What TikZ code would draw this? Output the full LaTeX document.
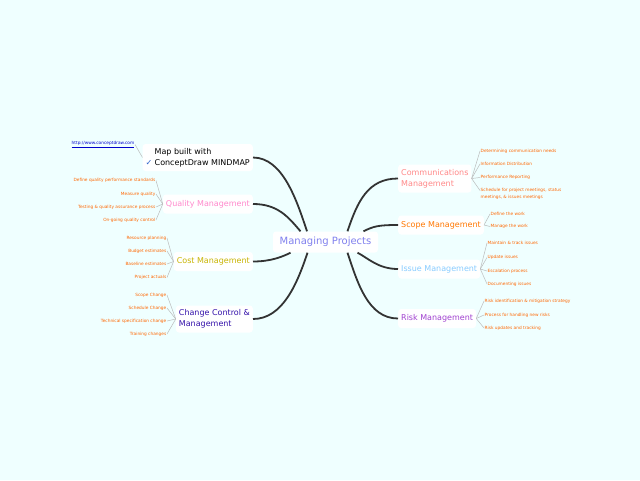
\documentclass[tikz,border=0pt]{standalone}
\usepackage{fontspec}
\setmainfont{DejaVu Sans}
\usetikzlibrary{calc}
\definecolor{BackClr}{HTML}{EFFFFF}
\definecolor{RootClr}{HTML}{8080EE}
\definecolor{QualClr}{HTML}{FF88CC}
\definecolor{CostClr}{HTML}{C8B400}
\definecolor{ChgClr}{HTML}{3311AA}
\definecolor{CommClr}{HTML}{FF8888}
\definecolor{ScopeClr}{HTML}{FF7700}
\definecolor{IssueClr}{HTML}{88CCFF}
\definecolor{RiskClr}{HTML}{A040D0}
\definecolor{LeafClr}{HTML}{FF6600}
\definecolor{LinkClr}{HTML}{0000CC}
\definecolor{TickClr}{HTML}{3366CC}
\definecolor{LimbClr}{HTML}{333333}
\definecolor{TwigClr}{HTML}{BBBBBB}

\begin{document}
\begin{tikzpicture}[x=1pt,y=-1pt,
  branch/.style={fill=white,rounded corners=3pt,inner xsep=3pt,inner ysep=0pt,minimum height=19pt,font=\fontsize{8}{11}\selectfont},
  leaf/.style={text=LeafClr,inner sep=0.5pt,font=\fontsize{4.3}{7}\selectfont},
  twig/.style={draw=TwigClr,line width=0.5pt},
  limb/.style={draw=LimbClr,line width=1.8pt}]

\useasboundingbox (0,0) rectangle (640,480);
\fill[BackClr] (0,0) rectangle (640,480);

\node[branch,minimum width=105pt,minimum height=21pt,inner sep=0pt,text=RootClr,font=\fontsize{10}{12}\selectfont] (R) at (325.5,242) {Managing Projects};

\node[branch,anchor=east,align=left,minimum height=27pt] (map) at (253,157.5)
  {\makebox[9pt][l]{}Map built with\\\makebox[9pt][l]{\color{TickClr}\bfseries ✓}ConceptDraw MINDMAP};
\node[branch,anchor=east,text=QualClr] (qual) at (253,204) {Quality Management};
\node[branch,anchor=east,text=CostClr] (cost) at (253,261.5) {Cost Management};
\node[branch,anchor=east,text=ChgClr,align=left,minimum height=27pt] (chg) at (253,319) {Change Control \&\\Management};

\node[branch,anchor=west,text=CommClr,align=left,minimum height=28pt] (comm) at (398,178.5) {Communications\\Management};
\node[branch,anchor=west,text=ScopeClr] (scope) at (398,225) {Scope Management};
\node[branch,anchor=west,text=IssueClr] (issue) at (398,269) {Issue Management};
\node[branch,anchor=west,text=RiskClr] (risk) at (398,318.5) {Risk Management};

\draw[limb] (map.east) .. controls +(30,0) and +(-10,-30) .. ($(R.north)+(-18.5,0)$);
\draw[limb] (qual.east) .. controls +(25,0) and +(-12,-14) .. ($(R.north)+(-25,0)$);
\draw[limb] (cost.east) .. controls +(18,0) and +(-8,4) .. ($(R.south)+(-35,0)$);
\draw[limb] (chg.east) .. controls +(30,0) and +(-10,30) .. ($(R.south)+(-18,0)$);
\draw[limb] (comm.west) .. controls +(-30,0) and +(10,-30) .. ($(R.north)+(22,0)$);
\draw[limb] (scope.west) .. controls +(-20,0) and +(10,-5) .. ($(R.north)+(38,0)$);
\draw[limb] (issue.west) .. controls +(-20,0) and +(10,5) .. ($(R.south)+(32,0)$);
\draw[limb] (risk.west) .. controls +(-30,0) and +(10,30) .. ($(R.south)+(22,0)$);

\node[leaf,anchor=east,text=LinkClr] (m1) at (135,144.5) {\underline{http://www.conceptdraw.com}};
\draw[twig] (map.west) -- (m1.east);

\foreach \y/\t [count=\i] in {180.5/Define quality performance standards,194/Measure quality,207/Testing \& quality assurance process,220/On-going quality control}{
  \node[leaf,anchor=east] (q\i) at (156,\y) {\t};
  \draw[twig] (qual.west) -- (q\i.east);
}
\foreach \y/\t [count=\i] in {238/Resource planning,251/Budget estimates,264/Baseline estimates,277.5/Project actuals}{
  \node[leaf,anchor=east] (c\i) at (167,\y) {\t};
  \draw[twig] (cost.west) -- (c\i.east);
}
\foreach \y/\t [count=\i] in {295/Scope Change,308/Schedule Change,321/Technical specification change,334/Training changes}{
  \node[leaf,anchor=east] (k\i) at (167,\y) {\t};
  \draw[twig] (chg.west) -- (k\i.east);
}

\foreach \y/\t [count=\i] in {151/Determining communication needs,164/Information Distribution,177.5/Performance Reporting}{
  \node[leaf,anchor=west] (n\i) at (480,\y) {\t};
  \draw[twig] (comm.east) -- (n\i.west);
}
\node[leaf,anchor=north west,align=left] (n4) at (480,187.5) {Schedule for project meetings, status\\meetings, \& issues meetings};
\draw[twig] (comm.east) -- ($(n4.north west)+(0,3)$);
\foreach \y/\t [count=\i] in {214/Define the work,226.5/Manage the work}{
  \node[leaf,anchor=west] (s\i) at (490,\y) {\t};
  \draw[twig] (scope.east) -- (s\i.west);
}
\foreach \y/\t [count=\i] in {243/Maintain \& track issues,257.5/Update issues,271/Escalation process,284/Documenting issues}{
  \node[leaf,anchor=west] (i\i) at (487,\y) {\t};
  \draw[twig] (issue.east) -- (i\i.west);
}
\foreach \y/\t [count=\i] in {301/Risk identification \& mitigation strategy,315/Process for handling new risks,328/Risk updates and tracking}{
  \node[leaf,anchor=west] (r\i) at (484,\y) {\t};
  \draw[twig] (risk.east) -- (r\i.west);
}

\end{tikzpicture}
\end{document}
